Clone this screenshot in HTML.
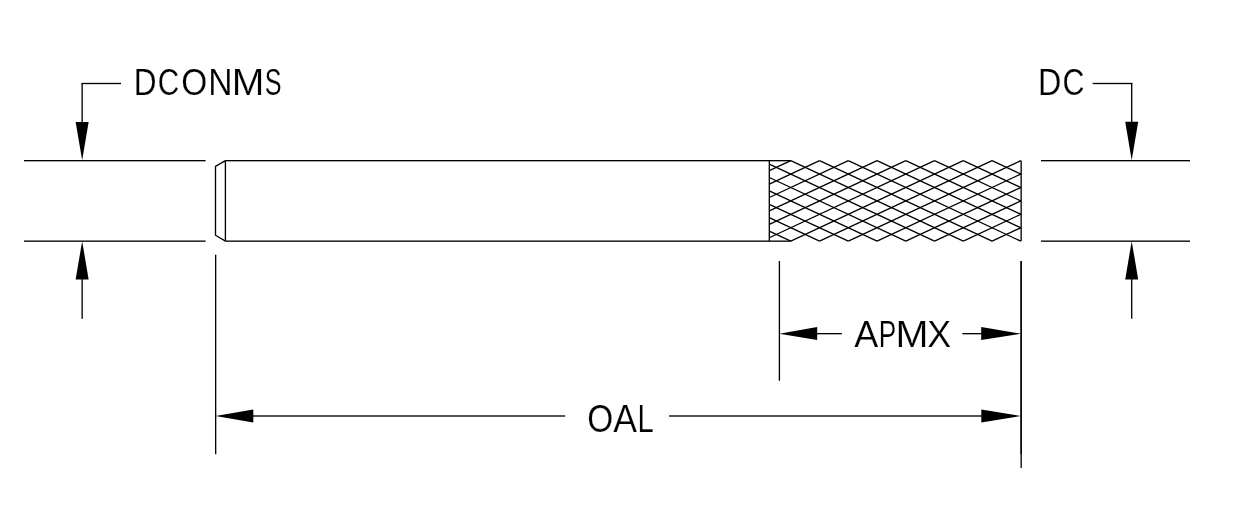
<!DOCTYPE html>
<html><head><meta charset="utf-8"><style>
html,body{margin:0;padding:0;background:#fff;width:1240px;height:520px;overflow:hidden}
svg{display:block;will-change:transform}
text{font-family:"Liberation Sans",sans-serif;font-size:37.5px;fill:#000;stroke:#fff;stroke-width:0.2px}
</style></head><body>
<svg width="1240" height="520" viewBox="0 0 1240 520">
<g stroke="#000" stroke-linecap="butt" fill="none">
<rect x="24.00" y="160.005" width="181.60" height="1.33" fill="#000" stroke="none"/>
<rect x="24.00" y="240.485" width="181.60" height="1.33" fill="#000" stroke="none"/>
<rect x="81.45" y="82.835" width="39.55" height="1.33" fill="#000" stroke="none"/>
<rect x="81.485" y="83.50" width="1.33" height="39.50" fill="#000" stroke="none"/>
<rect x="81.485" y="278.00" width="1.33" height="40.80" fill="#000" stroke="none"/>
<rect x="1041.00" y="160.005" width="149.00" height="1.33" fill="#000" stroke="none"/>
<rect x="1041.00" y="240.485" width="149.00" height="1.33" fill="#000" stroke="none"/>
<rect x="1092.70" y="82.835" width="39.70" height="1.33" fill="#000" stroke="none"/>
<rect x="1131.035" y="83.50" width="1.33" height="39.50" fill="#000" stroke="none"/>
<rect x="1131.035" y="278.00" width="1.33" height="40.70" fill="#000" stroke="none"/>
<polyline fill="none" stroke-width="1.33" points="225.4,160.67 215.5,166.5 215.5,235.2 225.4,241.15"/>
<rect x="224.735" y="160.67" width="1.33" height="80.48" fill="#000" stroke="none"/>
<rect x="225.40" y="160.005" width="565.40" height="1.33" fill="#000" stroke="none"/>
<rect x="225.40" y="240.485" width="565.40" height="1.33" fill="#000" stroke="none"/>
<rect x="768.635" y="160.67" width="1.33" height="80.48" fill="#000" stroke="none"/>
<rect x="1020.485" y="160.67" width="1.33" height="80.48" fill="#000" stroke="none"/>
<line x1="769.30" y1="231.12" x2="790.80" y2="241.15" stroke-width="1.3"/>
<line x1="769.30" y1="217.71" x2="819.55" y2="241.15" stroke-width="1.3"/>
<line x1="769.30" y1="204.29" x2="848.30" y2="241.15" stroke-width="1.3"/>
<line x1="769.30" y1="190.88" x2="877.05" y2="241.15" stroke-width="1.3"/>
<line x1="769.30" y1="177.47" x2="905.80" y2="241.15" stroke-width="1.3"/>
<line x1="769.30" y1="164.05" x2="934.55" y2="241.15" stroke-width="1.3"/>
<line x1="790.80" y1="160.67" x2="963.30" y2="241.15" stroke-width="1.3"/>
<line x1="769.30" y1="170.70" x2="790.80" y2="160.67" stroke-width="1.3"/>
<line x1="819.55" y1="160.67" x2="992.05" y2="241.15" stroke-width="1.3"/>
<line x1="769.30" y1="184.11" x2="819.55" y2="160.67" stroke-width="1.3"/>
<line x1="848.30" y1="160.67" x2="1020.80" y2="241.15" stroke-width="1.3"/>
<line x1="769.30" y1="197.53" x2="848.30" y2="160.67" stroke-width="1.3"/>
<line x1="877.05" y1="160.67" x2="1021.00" y2="227.83" stroke-width="1.3"/>
<line x1="769.30" y1="210.94" x2="877.05" y2="160.67" stroke-width="1.3"/>
<line x1="905.80" y1="160.67" x2="1021.00" y2="214.42" stroke-width="1.3"/>
<line x1="769.30" y1="224.35" x2="905.80" y2="160.67" stroke-width="1.3"/>
<line x1="934.55" y1="160.67" x2="1021.00" y2="201.00" stroke-width="1.3"/>
<line x1="769.30" y1="237.77" x2="934.55" y2="160.67" stroke-width="1.3"/>
<line x1="963.30" y1="160.67" x2="1021.00" y2="187.59" stroke-width="1.3"/>
<line x1="790.80" y1="241.15" x2="963.30" y2="160.67" stroke-width="1.3"/>
<line x1="992.05" y1="160.67" x2="1021.00" y2="174.18" stroke-width="1.3"/>
<line x1="819.55" y1="241.15" x2="992.05" y2="160.67" stroke-width="1.3"/>
<line x1="1020.80" y1="160.67" x2="1021.00" y2="160.76" stroke-width="1.3"/>
<line x1="848.30" y1="241.15" x2="1020.80" y2="160.67" stroke-width="1.3"/>
<line x1="877.05" y1="241.15" x2="1021.00" y2="173.99" stroke-width="1.3"/>
<line x1="905.80" y1="241.15" x2="1021.00" y2="187.40" stroke-width="1.3"/>
<line x1="934.55" y1="241.15" x2="1021.00" y2="200.82" stroke-width="1.3"/>
<line x1="963.30" y1="241.15" x2="1021.00" y2="214.23" stroke-width="1.3"/>
<line x1="992.05" y1="241.15" x2="1021.00" y2="227.64" stroke-width="1.3"/>
<line x1="1020.80" y1="241.15" x2="1021.00" y2="241.06" stroke-width="1.3"/>
<rect x="778.735" y="261.00" width="1.33" height="119.70" fill="#000" stroke="none"/>
<rect x="1020.485" y="261.00" width="1.33" height="206.90" fill="#000" stroke="none"/>
<rect x="1020.485" y="261.00" width="1.33" height="193.20" fill="#000" stroke="none"/>
<rect x="816.00" y="333.005" width="25.90" height="1.33" fill="#000" stroke="none"/>
<rect x="962.30" y="333.005" width="19.70" height="1.33" fill="#000" stroke="none"/>
<rect x="215.005" y="254.70" width="1.33" height="199.50" fill="#000" stroke="none"/>
<rect x="252.00" y="415.335" width="313.20" height="1.33" fill="#000" stroke="none"/>
<rect x="669.10" y="415.335" width="312.90" height="1.33" fill="#000" stroke="none"/>
</g>
<g fill="#000" stroke="none">
<polygon points="75.65,122.00 88.65,122.00 82.15,160.20"/>
<polygon points="75.65,279.40 88.65,279.40 82.15,241.20"/>
<polygon points="1125.20,121.80 1138.20,121.80 1131.70,160.20"/>
<polygon points="1125.20,279.50 1138.20,279.50 1131.70,241.20"/>
<polygon points="779.30,333.67 817.20,327.10 817.20,340.10"/>
<polygon points="1021.00,333.67 981.20,327.10 981.20,340.10"/>
<polygon points="215.50,416.00 253.30,409.50 253.30,422.50"/>
<polygon points="1021.00,416.00 981.30,409.50 981.30,422.50"/>
</g>
<g>
<text transform="translate(133.65 95.00) scale(0.8427 1.0078)">D</text>
<text transform="translate(157.67 95.00) scale(0.7937 1.0078)">C</text>
<text transform="translate(181.25 95.00) scale(0.8930 1.0078)">O</text>
<text transform="translate(208.13 95.00) scale(0.8969 1.0078)">N</text>
<text transform="translate(231.64 95.00) scale(1.0450 1.0078)">M</text>
<text transform="translate(264.63 95.00) scale(0.6718 1.0078)">S</text>
<text transform="translate(1038.12 95.00) scale(0.8639 1.0078)">D</text>
<text transform="translate(1062.38 95.00) scale(0.8109 1.0078)">C</text>
<text transform="translate(854.19 347.00) scale(0.9605 0.9791)">A</text>
<text transform="translate(878.69 347.00) scale(0.6984 0.9791)">P</text>
<text transform="translate(895.61 347.00) scale(1.0551 0.9791)">M</text>
<text transform="translate(927.16 347.00) scale(0.9563 0.9791)">X</text>
<text transform="translate(587.26 432.00) scale(0.8917 1.0124)">O</text>
<text transform="translate(613.37 432.00) scale(0.9505 1.0124)">A</text>
<text transform="translate(637.41 432.00) scale(0.7758 1.0124)">L</text>
</g>
</svg>
</body></html>
